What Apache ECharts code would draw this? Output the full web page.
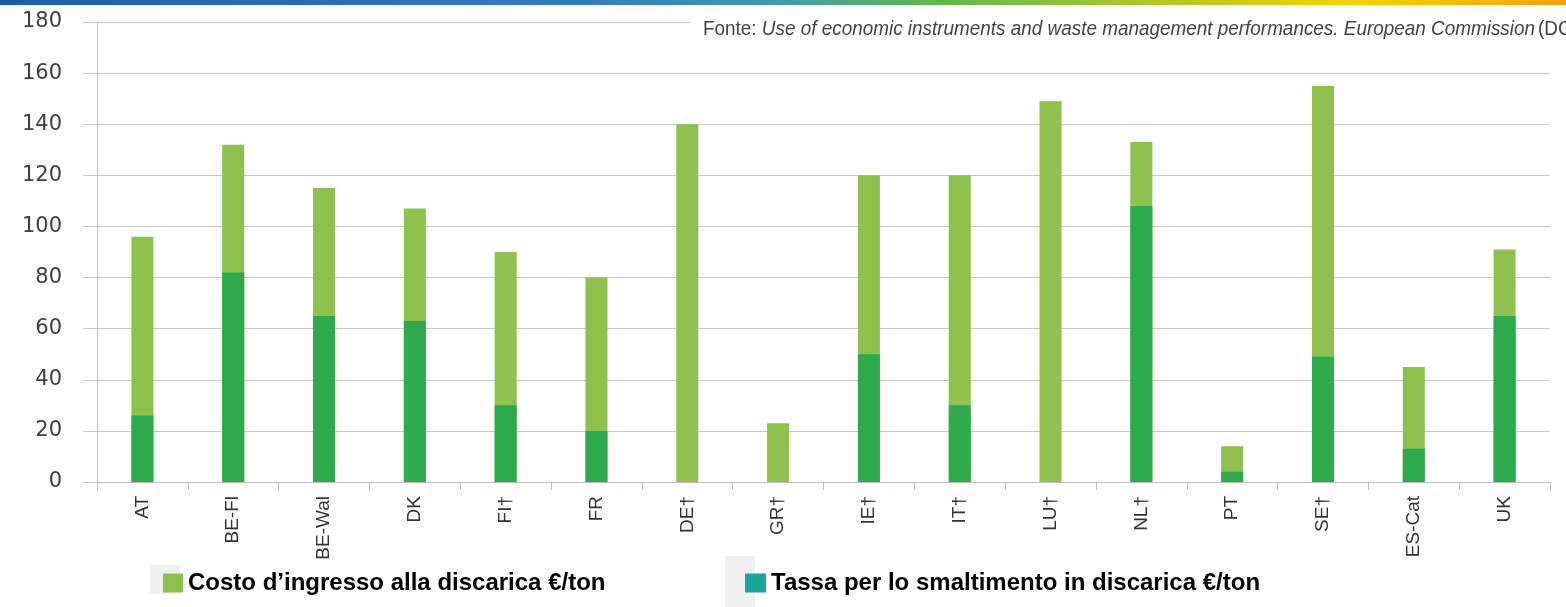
<!DOCTYPE html>
<html>
<head>
<meta charset="utf-8">
<script src="https://cdn.jsdelivr.net/npm/echarts@6/dist/echarts.min.js"></script>
<style>
  html, body { margin: 0; padding: 0; background: #fff; }
  #main { width: 1566px; height: 607px; }
</style>
</head>
<body>
<div id="main"></div>
<script>
// paesi
const categories = ["AT", "BE-Fl", "BE-Wal", "DK", "FI†", "FR", "DE†", "GR†", "IE†", "IT†", "LU†", "NL†", "PT", "SE†", "ES-Cat", "UK"];
// costo totale d'ingresso (€/ton)
const costValues = [96, 132, 115, 107, 90, 80, 140, 23, 120, 120, 149, 133, 14, 155, 45, 91];
// tassa (€/ton)
const taxValues = [26, 82, 65, 63, 30, 20, 0, 0, 50, 30, 0, 108, 4, 49, 13, 65];
const yMin = 0, yMax = 180, yStep = 20;

const costName = "Costo d\u2019ingresso alla discarica €/ton";
const taxName = "Tassa per lo smaltimento in discarica €/ton";

const sans = "'Liberation Sans', Arial, sans-serif";

let myChart = echarts.init(document.getElementById("main"));
let option = {
  animation: false,
  grid: { left: 97, right: 16, top: 22, bottom: 125 },
  xAxis: {
    type: "category",
    data: categories,
    axisLine: { lineStyle: { color: "#bfbfbf", width: 1 } },
    axisTick: { show: true, length: 8, lineStyle: { color: "#bfbfbf" } },
    axisLabel: {
      rotate: 90,
      margin: 14,
      color: "#333",
      fontSize: 19,
      fontFamily: sans,
    },
  },
  yAxis: {
    type: "value",
    min: yMin,
    max: yMax,
    interval: yStep,
    axisLine: { show: true, lineStyle: { color: "#bfbfbf" } },
    axisTick: { show: true, length: 14, lineStyle: { color: "#c8c8c8" } },
    splitLine: { lineStyle: { color: "#c8c8c8", width: 1.2 } },
    axisLabel: {
      margin: 35,
      color: "#404040",
      fontSize: 21,
      fontFamily: "'DejaVu Sans', sans-serif",
    },
  },
  legend: [
    {
      data: [costName],
      left: 163,
      top: 571,
      padding: 0,
      itemWidth: 20,
      itemHeight: 19,
      icon: "rect",
      textStyle: { fontSize: 24, fontWeight: "bold", color: "#000", fontFamily: sans },
    },
    {
      data: [{ name: taxName, itemStyle: { color: "#16a699" } }],
      left: 745,
      top: 571,
      padding: 0,
      itemWidth: 21,
      itemHeight: 19,
      icon: "rect",
      textStyle: { fontSize: 24, fontWeight: "bold", color: "#000", fontFamily: sans },
    },
  ],
  graphic: [
    {
      type: "rect",
      left: 0,
      top: 0,
      z: 100,
      shape: { width: 1566, height: 5 },
      style: {
        fill: new echarts.graphic.LinearGradient(0, 0, 1, 0, [
          { offset: 0, color: "#1d5ea8" },
          { offset: 0.38, color: "#2f7fc0" },
          { offset: 0.5, color: "#3f9ea8" },
          { offset: 0.6, color: "#5fb84a" },
          { offset: 0.72, color: "#a9c62c" },
          { offset: 0.86, color: "#f3d200" },
          { offset: 1, color: "#f6a10c" },
        ]),
      },
    },
    {
      type: "rect",
      left: 690,
      top: 12,
      z: 100,
      shape: { width: 880, height: 30 },
      style: { fill: "#fff" },
    },
    {
      type: "text",
      x: 703,
      y: 19,
      scaleX: 0.9,
      z: 101,
      style: {
        text: "{a|Fonte: }{b|Use of economic instruments and waste management performances. European Commission} {a|(DG ENV)}",
        rich: {
          a: { fontSize: 21, fontFamily: sans, fill: "#444" },
          b: { fontSize: 21, fontFamily: sans, fontStyle: "italic", fill: "#444" },
        },
      },
    },
    {
      type: "rect",
      left: 150,
      top: 565,
      z: 0,
      shape: { width: 30, height: 29 },
      style: { fill: "#f0f0f0" },
    },
    {
      type: "rect",
      left: 725,
      top: 556,
      z: 0,
      shape: { width: 30, height: 51 },
      style: { fill: "#f0f0f0" },
    },
  ],
  series: [
    {
      name: costName,
      type: "bar",
      data: costValues,
      barWidth: 22,
      barGap: "-100%",
      itemStyle: { color: "#8cc14b" },
    },
    {
      name: taxName,
      type: "bar",
      data: taxValues,
      barWidth: 22,
      barGap: "-100%",
      itemStyle: { color: "#2bab4a" },
    },
  ],
};
myChart.setOption(option);
</script>
</body>
</html>
